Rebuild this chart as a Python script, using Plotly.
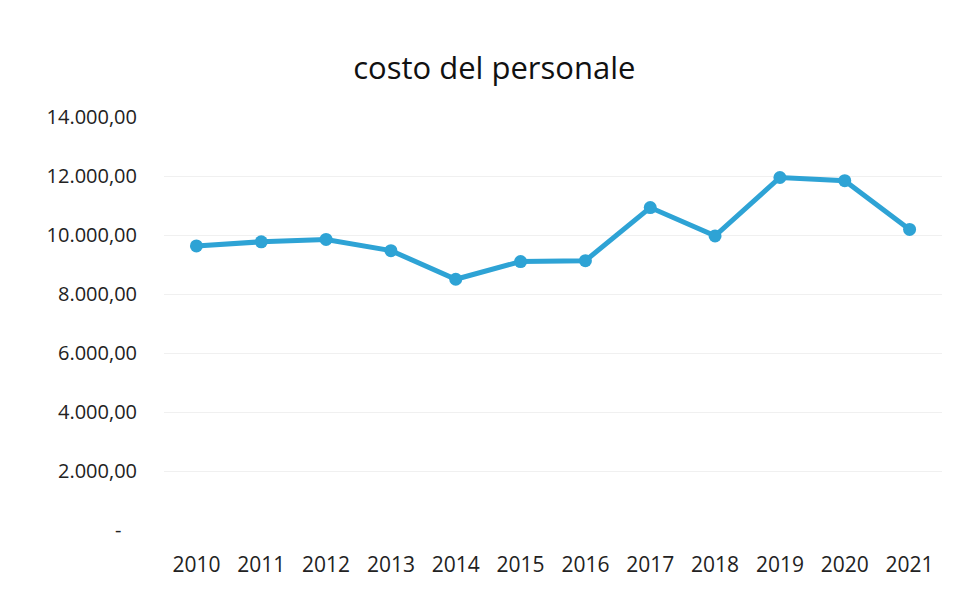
import plotly.graph_objects as go

# dati
anni = ["2010", "2011", "2012", "2013", "2014", "2015",
        "2016", "2017", "2018", "2019", "2020", "2021"]
costo = [9630, 9770, 9850, 9470, 8500, 9100,
         9130, 10930, 9970, 11950, 11840, 10190]

tick_vals = [0, 2000, 4000, 6000, 8000, 10000, 12000, 14000]
tick_text = ["-\u00a0\u00a0\u00a0", "2.000,00", "4.000,00", "6.000,00",
             "8.000,00", "10.000,00", "12.000,00", "14.000,00"]

blu = "#2ea3d5"

fig = go.Figure()
fig.add_trace(go.Scatter(
    x=anni, y=costo, mode="lines+markers",
    line=dict(color=blu, width=5),
    marker=dict(color=blu, size=13),
    showlegend=False,
))

# la pagina ha un margine di 8px, quindi si compensa qui
fig.update_layout(
    width=961, height=589,
    paper_bgcolor="white", plot_bgcolor="white",
    margin=dict(l=156, r=27, t=109, b=67),
    font=dict(family="Open Sans, sans-serif", color="#222222", size=16),
    title=dict(text="costo del personale", x=0.506, xanchor="center",
               y=0.898, yanchor="middle",
               font=dict(size=31, color="#111111")),
)
fig.update_xaxes(
    type="category", range=[-0.5, 11.5],
    showgrid=False, zeroline=False, showline=False,
    ticks="", ticklabelstandoff=20, tickfont=dict(size=21),
)
fig.update_yaxes(
    range=[0, 14000], tickvals=tick_vals, ticktext=tick_text,
    showgrid=True, gridcolor="#f0f0f0", gridwidth=1,
    zeroline=False, showline=False, ticks="",
    ticklabelstandoff=26, tickfont=dict(size=20),
)

fig.write_html("out.html")
